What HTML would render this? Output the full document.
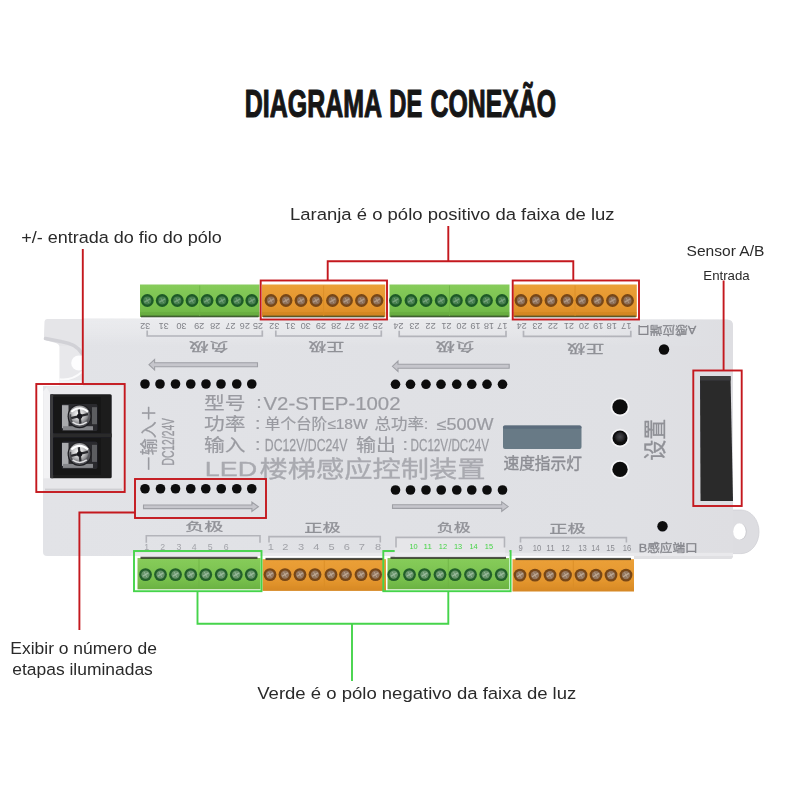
<!DOCTYPE html>
<html lang="pt"><head><meta charset="utf-8"><title>Diagrama de Conexão</title>
<style>html,body{margin:0;padding:0;background:#fff}body{width:800px;height:800px;overflow:hidden}svg{display:block}text{font-family:'Liberation Sans','Noto Sans CJK SC',sans-serif}</style>
</head><body>
<svg width="800" height="800" viewBox="0 0 800 800">
<defs>
<linearGradient id="gbody" x1="0" y1="0" x2="1" y2="0"><stop offset="0" stop-color="#e2e3e7"/><stop offset="0.5" stop-color="#e0e1e5"/><stop offset="0.85" stop-color="#dfe0e4"/><stop offset="1" stop-color="#dedee2"/></linearGradient>
<linearGradient id="ggreen" x1="0" y1="0" x2="0" y2="1"><stop offset="0" stop-color="#87cc5b"/><stop offset="0.7" stop-color="#77bf4c"/><stop offset="1" stop-color="#6bb242"/></linearGradient>
<linearGradient id="gorange" x1="0" y1="0" x2="0" y2="1"><stop offset="0" stop-color="#eba038"/><stop offset="0.7" stop-color="#e3952d"/><stop offset="1" stop-color="#d68824"/></linearGradient>
<radialGradient id="gscrew" cx="0.45" cy="0.4"><stop offset="0" stop-color="#ffffff"/><stop offset="0.55" stop-color="#c4c4c6"/><stop offset="0.85" stop-color="#8b8b8e"/><stop offset="1" stop-color="#55555a"/></radialGradient>
<radialGradient id="gbtn" cx="0.5" cy="0.4"><stop offset="0" stop-color="#4a4a4e"/><stop offset="0.6" stop-color="#2b2b2e"/><stop offset="1" stop-color="#0c0c0e"/></radialGradient>
<linearGradient id="gtop" x1="0" y1="0" x2="0" y2="1"><stop offset="0" stop-color="#ffffff" stop-opacity="0.32"/><stop offset="0.55" stop-color="#ffffff" stop-opacity="0.18"/><stop offset="1" stop-color="#ffffff" stop-opacity="0"/></linearGradient>
<linearGradient id="gtopfade" x1="0" y1="0" x2="1" y2="0"><stop offset="0" stop-color="#dfe0e4" stop-opacity="0"/><stop offset="0.6" stop-color="#dfe0e4" stop-opacity="1"/><stop offset="1" stop-color="#dedee2" stop-opacity="1"/></linearGradient>
<filter id="soft" x="-5%" y="-5%" width="110%" height="110%"><feGaussianBlur stdDeviation="0.45"/></filter>
<filter id="soft2" x="-5%" y="-5%" width="110%" height="110%"><feGaussianBlur stdDeviation="0.6"/></filter>
</defs>
<rect width="800" height="800" fill="#fff"/>
<g id="title">
<text transform="translate(244.8 117.2) scale(0.6401 1)" font-size="39" fill="#161616" font-weight="bold" stroke="#161616" stroke-width="1.0" stroke-linejoin="round" vector-effect="non-scaling-stroke">DIAGRAMA</text>
<text transform="translate(389.3 117.2) scale(0.6090 1)" font-size="39" fill="#161616" font-weight="bold" stroke="#161616" stroke-width="1.0" stroke-linejoin="round" vector-effect="non-scaling-stroke">DE</text>
<text transform="translate(430.6 117.2) scale(0.6369 1)" font-size="39" fill="#161616" font-weight="bold" stroke="#161616" stroke-width="1.0" stroke-linejoin="round" vector-effect="non-scaling-stroke">CONEXÃO</text>
</g>
<g id="device" filter="url(#soft)">
<path d="M47 319 H84 V386 H59.5 V347 Q59.5 343.5 54 342.5 L46.5 340.5 Q43.5 339.5 44 335 L44.5 321.5 Q44.8 319 47 319 Z" fill="#e5e5e8"/>
<path d="M60 346 H84 V380 H60 Z" fill="#e8e8eb"/>
<path d="M45.5 338.5 L62 341.8 Q76.5 344 81.5 353" stroke="#d1d1d6" stroke-width="3.6" fill="none" stroke-linecap="round"/>
<circle cx="78.8" cy="363" r="7.6" fill="#fdfdfe"/>
<path d="M59.5 379.3 Q72 381 82.5 371.5" stroke="#fbfbfc" stroke-width="2" fill="none"/>
<rect x="59" y="380.3" width="25" height="5.7" fill="#f4f4f6"/>
<path d="M730 510 H741 A18 21.8 0 0 1 741 553.6 H730 Z" fill="#dddde1" stroke="#d0d0d5" stroke-width="0.8"/>
<ellipse cx="740.3" cy="531.8" rx="6.4" ry="8.2" fill="#c9c9ce"/>
<ellipse cx="739.5" cy="531.5" rx="6.3" ry="8.2" fill="#ffffff"/>
<path d="M634 555 H733 V557 L731.5 559 H634 Z" fill="#e0e0e3"/>
<path d="M83 318.5 L727 319.6 Q733 319.6 733 325.6 V556 H47 Q43 556 43 552 V386 H83 Z" fill="url(#gbody)"/>
<path d="M84 318.6 L727 319.7 Q733 319.7 733 325.7 V346 H84 Z" fill="url(#gtop)"/>
<path d="M600 319.4 L727 319.7 Q733 319.7 733 325.7 V346 H600 Z" fill="url(#gtopfade)"/>
<rect x="131" y="552.8" width="602" height="3.2" fill="#e9e9ec"/>
</g>
<g filter="url(#soft)">
<rect x="140" y="284.5" width="119.5" height="32.5" fill="url(#ggreen)"/>
<rect x="140" y="312" width="119.5" height="4" fill="#5a9a38" opacity="0.3"/>
<rect x="141" y="315.6" width="117.5" height="1.8" fill="#33452a" opacity="0.75"/>
<path d="M199.75 285.5 V316" stroke="#6db344" stroke-width="1" opacity="0.8"/>
<circle cx="147.3" cy="300.5" r="6.4" fill="#1f5a28"/>
<circle cx="147.3" cy="300.5" r="4.0" fill="#47804f"/>
<path d="M144.9 301.9 L149.70000000000002 299.1" stroke="#7fa983" stroke-width="1.4" stroke-linecap="round" opacity="0.85"/>
<path d="M146.10000000000002 298.3 L148.5 302.7" stroke="#7fa983" stroke-width="0.9" stroke-linecap="round" opacity="0.8"/>
<circle cx="162.2" cy="300.5" r="6.4" fill="#1f5a28"/>
<circle cx="162.2" cy="300.5" r="4.0" fill="#47804f"/>
<path d="M159.79999999999998 301.9 L164.6 299.1" stroke="#7fa983" stroke-width="1.4" stroke-linecap="round" opacity="0.85"/>
<path d="M161.0 298.3 L163.39999999999998 302.7" stroke="#7fa983" stroke-width="0.9" stroke-linecap="round" opacity="0.8"/>
<circle cx="177.3" cy="300.5" r="6.4" fill="#1f5a28"/>
<circle cx="177.3" cy="300.5" r="4.0" fill="#47804f"/>
<path d="M174.9 301.9 L179.70000000000002 299.1" stroke="#7fa983" stroke-width="1.4" stroke-linecap="round" opacity="0.85"/>
<path d="M176.10000000000002 298.3 L178.5 302.7" stroke="#7fa983" stroke-width="0.9" stroke-linecap="round" opacity="0.8"/>
<circle cx="192" cy="300.5" r="6.4" fill="#1f5a28"/>
<circle cx="192" cy="300.5" r="4.0" fill="#47804f"/>
<path d="M189.6 301.9 L194.4 299.1" stroke="#7fa983" stroke-width="1.4" stroke-linecap="round" opacity="0.85"/>
<path d="M190.8 298.3 L193.2 302.7" stroke="#7fa983" stroke-width="0.9" stroke-linecap="round" opacity="0.8"/>
<circle cx="207.1" cy="300.5" r="6.4" fill="#1f5a28"/>
<circle cx="207.1" cy="300.5" r="4.0" fill="#47804f"/>
<path d="M204.7 301.9 L209.5 299.1" stroke="#7fa983" stroke-width="1.4" stroke-linecap="round" opacity="0.85"/>
<path d="M205.9 298.3 L208.29999999999998 302.7" stroke="#7fa983" stroke-width="0.9" stroke-linecap="round" opacity="0.8"/>
<circle cx="222" cy="300.5" r="6.4" fill="#1f5a28"/>
<circle cx="222" cy="300.5" r="4.0" fill="#47804f"/>
<path d="M219.6 301.9 L224.4 299.1" stroke="#7fa983" stroke-width="1.4" stroke-linecap="round" opacity="0.85"/>
<path d="M220.8 298.3 L223.2 302.7" stroke="#7fa983" stroke-width="0.9" stroke-linecap="round" opacity="0.8"/>
<circle cx="237.3" cy="300.5" r="6.4" fill="#1f5a28"/>
<circle cx="237.3" cy="300.5" r="4.0" fill="#47804f"/>
<path d="M234.9 301.9 L239.70000000000002 299.1" stroke="#7fa983" stroke-width="1.4" stroke-linecap="round" opacity="0.85"/>
<path d="M236.10000000000002 298.3 L238.5 302.7" stroke="#7fa983" stroke-width="0.9" stroke-linecap="round" opacity="0.8"/>
<circle cx="251.8" cy="300.5" r="6.4" fill="#1f5a28"/>
<circle cx="251.8" cy="300.5" r="4.0" fill="#47804f"/>
<path d="M249.4 301.9 L254.20000000000002 299.1" stroke="#7fa983" stroke-width="1.4" stroke-linecap="round" opacity="0.85"/>
<path d="M250.60000000000002 298.3 L253.0 302.7" stroke="#7fa983" stroke-width="0.9" stroke-linecap="round" opacity="0.8"/>
</g>
<g filter="url(#soft)">
<rect x="262" y="284.5" width="123.30000000000001" height="32.5" fill="url(#gorange)"/>
<rect x="262" y="312" width="123.30000000000001" height="4" fill="#c67c1e" opacity="0.3"/>
<rect x="263" y="315.6" width="121.30000000000001" height="1.8" fill="#33452a" opacity="0.75"/>
<path d="M323.65 285.5 V316" stroke="#d98c26" stroke-width="1" opacity="0.8"/>
<circle cx="271" cy="300.5" r="6.4" fill="#774619"/>
<circle cx="271" cy="300.5" r="4.0" fill="#8d705a"/>
<path d="M268.6 301.9 L273.4 299.1" stroke="#b7a08c" stroke-width="1.4" stroke-linecap="round" opacity="0.85"/>
<path d="M269.8 298.3 L272.2 302.7" stroke="#b7a08c" stroke-width="0.9" stroke-linecap="round" opacity="0.8"/>
<circle cx="286" cy="300.5" r="6.4" fill="#774619"/>
<circle cx="286" cy="300.5" r="4.0" fill="#8d705a"/>
<path d="M283.6 301.9 L288.4 299.1" stroke="#b7a08c" stroke-width="1.4" stroke-linecap="round" opacity="0.85"/>
<path d="M284.8 298.3 L287.2 302.7" stroke="#b7a08c" stroke-width="0.9" stroke-linecap="round" opacity="0.8"/>
<circle cx="301" cy="300.5" r="6.4" fill="#774619"/>
<circle cx="301" cy="300.5" r="4.0" fill="#8d705a"/>
<path d="M298.6 301.9 L303.4 299.1" stroke="#b7a08c" stroke-width="1.4" stroke-linecap="round" opacity="0.85"/>
<path d="M299.8 298.3 L302.2 302.7" stroke="#b7a08c" stroke-width="0.9" stroke-linecap="round" opacity="0.8"/>
<circle cx="316" cy="300.5" r="6.4" fill="#774619"/>
<circle cx="316" cy="300.5" r="4.0" fill="#8d705a"/>
<path d="M313.6 301.9 L318.4 299.1" stroke="#b7a08c" stroke-width="1.4" stroke-linecap="round" opacity="0.85"/>
<path d="M314.8 298.3 L317.2 302.7" stroke="#b7a08c" stroke-width="0.9" stroke-linecap="round" opacity="0.8"/>
<circle cx="332.5" cy="300.5" r="6.4" fill="#774619"/>
<circle cx="332.5" cy="300.5" r="4.0" fill="#8d705a"/>
<path d="M330.1 301.9 L334.9 299.1" stroke="#b7a08c" stroke-width="1.4" stroke-linecap="round" opacity="0.85"/>
<path d="M331.3 298.3 L333.7 302.7" stroke="#b7a08c" stroke-width="0.9" stroke-linecap="round" opacity="0.8"/>
<circle cx="346.5" cy="300.5" r="6.4" fill="#774619"/>
<circle cx="346.5" cy="300.5" r="4.0" fill="#8d705a"/>
<path d="M344.1 301.9 L348.9 299.1" stroke="#b7a08c" stroke-width="1.4" stroke-linecap="round" opacity="0.85"/>
<path d="M345.3 298.3 L347.7 302.7" stroke="#b7a08c" stroke-width="0.9" stroke-linecap="round" opacity="0.8"/>
<circle cx="361.5" cy="300.5" r="6.4" fill="#774619"/>
<circle cx="361.5" cy="300.5" r="4.0" fill="#8d705a"/>
<path d="M359.1 301.9 L363.9 299.1" stroke="#b7a08c" stroke-width="1.4" stroke-linecap="round" opacity="0.85"/>
<path d="M360.3 298.3 L362.7 302.7" stroke="#b7a08c" stroke-width="0.9" stroke-linecap="round" opacity="0.8"/>
<circle cx="377" cy="300.5" r="6.4" fill="#774619"/>
<circle cx="377" cy="300.5" r="4.0" fill="#8d705a"/>
<path d="M374.6 301.9 L379.4 299.1" stroke="#b7a08c" stroke-width="1.4" stroke-linecap="round" opacity="0.85"/>
<path d="M375.8 298.3 L378.2 302.7" stroke="#b7a08c" stroke-width="0.9" stroke-linecap="round" opacity="0.8"/>
</g>
<g filter="url(#soft)">
<rect x="389.5" y="284.5" width="120.0" height="32.5" fill="url(#ggreen)"/>
<rect x="389.5" y="312" width="120.0" height="4" fill="#5a9a38" opacity="0.3"/>
<rect x="390.5" y="315.6" width="118.0" height="1.8" fill="#33452a" opacity="0.75"/>
<path d="M449.5 285.5 V316" stroke="#6db344" stroke-width="1" opacity="0.8"/>
<circle cx="395.5" cy="300.5" r="6.4" fill="#1f5a28"/>
<circle cx="395.5" cy="300.5" r="4.0" fill="#47804f"/>
<path d="M393.1 301.9 L397.9 299.1" stroke="#7fa983" stroke-width="1.4" stroke-linecap="round" opacity="0.85"/>
<path d="M394.3 298.3 L396.7 302.7" stroke="#7fa983" stroke-width="0.9" stroke-linecap="round" opacity="0.8"/>
<circle cx="411" cy="300.5" r="6.4" fill="#1f5a28"/>
<circle cx="411" cy="300.5" r="4.0" fill="#47804f"/>
<path d="M408.6 301.9 L413.4 299.1" stroke="#7fa983" stroke-width="1.4" stroke-linecap="round" opacity="0.85"/>
<path d="M409.8 298.3 L412.2 302.7" stroke="#7fa983" stroke-width="0.9" stroke-linecap="round" opacity="0.8"/>
<circle cx="426" cy="300.5" r="6.4" fill="#1f5a28"/>
<circle cx="426" cy="300.5" r="4.0" fill="#47804f"/>
<path d="M423.6 301.9 L428.4 299.1" stroke="#7fa983" stroke-width="1.4" stroke-linecap="round" opacity="0.85"/>
<path d="M424.8 298.3 L427.2 302.7" stroke="#7fa983" stroke-width="0.9" stroke-linecap="round" opacity="0.8"/>
<circle cx="441.2" cy="300.5" r="6.4" fill="#1f5a28"/>
<circle cx="441.2" cy="300.5" r="4.0" fill="#47804f"/>
<path d="M438.8 301.9 L443.59999999999997 299.1" stroke="#7fa983" stroke-width="1.4" stroke-linecap="round" opacity="0.85"/>
<path d="M440.0 298.3 L442.4 302.7" stroke="#7fa983" stroke-width="0.9" stroke-linecap="round" opacity="0.8"/>
<circle cx="456.4" cy="300.5" r="6.4" fill="#1f5a28"/>
<circle cx="456.4" cy="300.5" r="4.0" fill="#47804f"/>
<path d="M454.0 301.9 L458.79999999999995 299.1" stroke="#7fa983" stroke-width="1.4" stroke-linecap="round" opacity="0.85"/>
<path d="M455.2 298.3 L457.59999999999997 302.7" stroke="#7fa983" stroke-width="0.9" stroke-linecap="round" opacity="0.8"/>
<circle cx="471.5" cy="300.5" r="6.4" fill="#1f5a28"/>
<circle cx="471.5" cy="300.5" r="4.0" fill="#47804f"/>
<path d="M469.1 301.9 L473.9 299.1" stroke="#7fa983" stroke-width="1.4" stroke-linecap="round" opacity="0.85"/>
<path d="M470.3 298.3 L472.7 302.7" stroke="#7fa983" stroke-width="0.9" stroke-linecap="round" opacity="0.8"/>
<circle cx="486.5" cy="300.5" r="6.4" fill="#1f5a28"/>
<circle cx="486.5" cy="300.5" r="4.0" fill="#47804f"/>
<path d="M484.1 301.9 L488.9 299.1" stroke="#7fa983" stroke-width="1.4" stroke-linecap="round" opacity="0.85"/>
<path d="M485.3 298.3 L487.7 302.7" stroke="#7fa983" stroke-width="0.9" stroke-linecap="round" opacity="0.8"/>
<circle cx="502" cy="300.5" r="6.4" fill="#1f5a28"/>
<circle cx="502" cy="300.5" r="4.0" fill="#47804f"/>
<path d="M499.6 301.9 L504.4 299.1" stroke="#7fa983" stroke-width="1.4" stroke-linecap="round" opacity="0.85"/>
<path d="M500.8 298.3 L503.2 302.7" stroke="#7fa983" stroke-width="0.9" stroke-linecap="round" opacity="0.8"/>
</g>
<g filter="url(#soft)">
<rect x="513.3" y="284.5" width="123.5" height="32.5" fill="url(#gorange)"/>
<rect x="513.3" y="312" width="123.5" height="4" fill="#c67c1e" opacity="0.3"/>
<rect x="514.3" y="315.6" width="121.5" height="1.8" fill="#33452a" opacity="0.75"/>
<path d="M575.05 285.5 V316" stroke="#d98c26" stroke-width="1" opacity="0.8"/>
<circle cx="521" cy="300.5" r="6.4" fill="#774619"/>
<circle cx="521" cy="300.5" r="4.0" fill="#8d705a"/>
<path d="M518.6 301.9 L523.4 299.1" stroke="#b7a08c" stroke-width="1.4" stroke-linecap="round" opacity="0.85"/>
<path d="M519.8 298.3 L522.2 302.7" stroke="#b7a08c" stroke-width="0.9" stroke-linecap="round" opacity="0.8"/>
<circle cx="536" cy="300.5" r="6.4" fill="#774619"/>
<circle cx="536" cy="300.5" r="4.0" fill="#8d705a"/>
<path d="M533.6 301.9 L538.4 299.1" stroke="#b7a08c" stroke-width="1.4" stroke-linecap="round" opacity="0.85"/>
<path d="M534.8 298.3 L537.2 302.7" stroke="#b7a08c" stroke-width="0.9" stroke-linecap="round" opacity="0.8"/>
<circle cx="551" cy="300.5" r="6.4" fill="#774619"/>
<circle cx="551" cy="300.5" r="4.0" fill="#8d705a"/>
<path d="M548.6 301.9 L553.4 299.1" stroke="#b7a08c" stroke-width="1.4" stroke-linecap="round" opacity="0.85"/>
<path d="M549.8 298.3 L552.2 302.7" stroke="#b7a08c" stroke-width="0.9" stroke-linecap="round" opacity="0.8"/>
<circle cx="567" cy="300.5" r="6.4" fill="#774619"/>
<circle cx="567" cy="300.5" r="4.0" fill="#8d705a"/>
<path d="M564.6 301.9 L569.4 299.1" stroke="#b7a08c" stroke-width="1.4" stroke-linecap="round" opacity="0.85"/>
<path d="M565.8 298.3 L568.2 302.7" stroke="#b7a08c" stroke-width="0.9" stroke-linecap="round" opacity="0.8"/>
<circle cx="582" cy="300.5" r="6.4" fill="#774619"/>
<circle cx="582" cy="300.5" r="4.0" fill="#8d705a"/>
<path d="M579.6 301.9 L584.4 299.1" stroke="#b7a08c" stroke-width="1.4" stroke-linecap="round" opacity="0.85"/>
<path d="M580.8 298.3 L583.2 302.7" stroke="#b7a08c" stroke-width="0.9" stroke-linecap="round" opacity="0.8"/>
<circle cx="597.5" cy="300.5" r="6.4" fill="#774619"/>
<circle cx="597.5" cy="300.5" r="4.0" fill="#8d705a"/>
<path d="M595.1 301.9 L599.9 299.1" stroke="#b7a08c" stroke-width="1.4" stroke-linecap="round" opacity="0.85"/>
<path d="M596.3 298.3 L598.7 302.7" stroke="#b7a08c" stroke-width="0.9" stroke-linecap="round" opacity="0.8"/>
<circle cx="612.5" cy="300.5" r="6.4" fill="#774619"/>
<circle cx="612.5" cy="300.5" r="4.0" fill="#8d705a"/>
<path d="M610.1 301.9 L614.9 299.1" stroke="#b7a08c" stroke-width="1.4" stroke-linecap="round" opacity="0.85"/>
<path d="M611.3 298.3 L613.7 302.7" stroke="#b7a08c" stroke-width="0.9" stroke-linecap="round" opacity="0.8"/>
<circle cx="627.5" cy="300.5" r="6.4" fill="#774619"/>
<circle cx="627.5" cy="300.5" r="4.0" fill="#8d705a"/>
<path d="M625.1 301.9 L629.9 299.1" stroke="#b7a08c" stroke-width="1.4" stroke-linecap="round" opacity="0.85"/>
<path d="M626.3 298.3 L628.7 302.7" stroke="#b7a08c" stroke-width="0.9" stroke-linecap="round" opacity="0.8"/>
</g>
<g filter="url(#soft)">
<rect x="137.5" y="558" width="123.0" height="31.299999999999955" fill="url(#ggreen)"/>
<rect x="140.5" y="556.7" width="117.0" height="2.2" fill="#25251f" opacity="0.8"/>
<path d="M199.0 559 V588.3" stroke="#6db344" stroke-width="1" opacity="0.8"/>
<circle cx="145.5" cy="574.6" r="6.4" fill="#235e2b"/>
<circle cx="145.5" cy="574.6" r="4.2" fill="#67946b"/>
<path d="M143.1 576.0 L147.9 573.2" stroke="#a3c0a5" stroke-width="1.4" stroke-linecap="round" opacity="0.85"/>
<path d="M144.3 572.4 L146.7 576.8000000000001" stroke="#a3c0a5" stroke-width="0.9" stroke-linecap="round" opacity="0.8"/>
<circle cx="160.5" cy="574.6" r="6.4" fill="#235e2b"/>
<circle cx="160.5" cy="574.6" r="4.2" fill="#67946b"/>
<path d="M158.1 576.0 L162.9 573.2" stroke="#a3c0a5" stroke-width="1.4" stroke-linecap="round" opacity="0.85"/>
<path d="M159.3 572.4 L161.7 576.8000000000001" stroke="#a3c0a5" stroke-width="0.9" stroke-linecap="round" opacity="0.8"/>
<circle cx="175.5" cy="574.6" r="6.4" fill="#235e2b"/>
<circle cx="175.5" cy="574.6" r="4.2" fill="#67946b"/>
<path d="M173.1 576.0 L177.9 573.2" stroke="#a3c0a5" stroke-width="1.4" stroke-linecap="round" opacity="0.85"/>
<path d="M174.3 572.4 L176.7 576.8000000000001" stroke="#a3c0a5" stroke-width="0.9" stroke-linecap="round" opacity="0.8"/>
<circle cx="190.75" cy="574.6" r="6.4" fill="#235e2b"/>
<circle cx="190.75" cy="574.6" r="4.2" fill="#67946b"/>
<path d="M188.35 576.0 L193.15 573.2" stroke="#a3c0a5" stroke-width="1.4" stroke-linecap="round" opacity="0.85"/>
<path d="M189.55 572.4 L191.95 576.8000000000001" stroke="#a3c0a5" stroke-width="0.9" stroke-linecap="round" opacity="0.8"/>
<circle cx="205.75" cy="574.6" r="6.4" fill="#235e2b"/>
<circle cx="205.75" cy="574.6" r="4.2" fill="#67946b"/>
<path d="M203.35 576.0 L208.15 573.2" stroke="#a3c0a5" stroke-width="1.4" stroke-linecap="round" opacity="0.85"/>
<path d="M204.55 572.4 L206.95 576.8000000000001" stroke="#a3c0a5" stroke-width="0.9" stroke-linecap="round" opacity="0.8"/>
<circle cx="221.25" cy="574.6" r="6.4" fill="#235e2b"/>
<circle cx="221.25" cy="574.6" r="4.2" fill="#67946b"/>
<path d="M218.85 576.0 L223.65 573.2" stroke="#a3c0a5" stroke-width="1.4" stroke-linecap="round" opacity="0.85"/>
<path d="M220.05 572.4 L222.45 576.8000000000001" stroke="#a3c0a5" stroke-width="0.9" stroke-linecap="round" opacity="0.8"/>
<circle cx="236.25" cy="574.6" r="6.4" fill="#235e2b"/>
<circle cx="236.25" cy="574.6" r="4.2" fill="#67946b"/>
<path d="M233.85 576.0 L238.65 573.2" stroke="#a3c0a5" stroke-width="1.4" stroke-linecap="round" opacity="0.85"/>
<path d="M235.05 572.4 L237.45 576.8000000000001" stroke="#a3c0a5" stroke-width="0.9" stroke-linecap="round" opacity="0.8"/>
<circle cx="251.25" cy="574.6" r="6.4" fill="#235e2b"/>
<circle cx="251.25" cy="574.6" r="4.2" fill="#67946b"/>
<path d="M248.85 576.0 L253.65 573.2" stroke="#a3c0a5" stroke-width="1.4" stroke-linecap="round" opacity="0.85"/>
<path d="M250.05 572.4 L252.45 576.8000000000001" stroke="#a3c0a5" stroke-width="0.9" stroke-linecap="round" opacity="0.8"/>
</g>
<g filter="url(#soft)">
<rect x="262.5" y="559.2" width="123.5" height="31.699999999999932" fill="url(#gorange)"/>
<rect x="265.5" y="557.9000000000001" width="117.5" height="2.2" fill="#25251f" opacity="0.8"/>
<path d="M324.25 560.2 V589.9" stroke="#d98c26" stroke-width="1" opacity="0.8"/>
<circle cx="270" cy="574.6" r="6.4" fill="#774619"/>
<circle cx="270" cy="574.6" r="4.2" fill="#94775f"/>
<path d="M267.6 576.0 L272.4 573.2" stroke="#c4b09c" stroke-width="1.4" stroke-linecap="round" opacity="0.85"/>
<path d="M268.8 572.4 L271.2 576.8000000000001" stroke="#c4b09c" stroke-width="0.9" stroke-linecap="round" opacity="0.8"/>
<circle cx="285" cy="574.6" r="6.4" fill="#774619"/>
<circle cx="285" cy="574.6" r="4.2" fill="#94775f"/>
<path d="M282.6 576.0 L287.4 573.2" stroke="#c4b09c" stroke-width="1.4" stroke-linecap="round" opacity="0.85"/>
<path d="M283.8 572.4 L286.2 576.8000000000001" stroke="#c4b09c" stroke-width="0.9" stroke-linecap="round" opacity="0.8"/>
<circle cx="300" cy="574.6" r="6.4" fill="#774619"/>
<circle cx="300" cy="574.6" r="4.2" fill="#94775f"/>
<path d="M297.6 576.0 L302.4 573.2" stroke="#c4b09c" stroke-width="1.4" stroke-linecap="round" opacity="0.85"/>
<path d="M298.8 572.4 L301.2 576.8000000000001" stroke="#c4b09c" stroke-width="0.9" stroke-linecap="round" opacity="0.8"/>
<circle cx="315" cy="574.6" r="6.4" fill="#774619"/>
<circle cx="315" cy="574.6" r="4.2" fill="#94775f"/>
<path d="M312.6 576.0 L317.4 573.2" stroke="#c4b09c" stroke-width="1.4" stroke-linecap="round" opacity="0.85"/>
<path d="M313.8 572.4 L316.2 576.8000000000001" stroke="#c4b09c" stroke-width="0.9" stroke-linecap="round" opacity="0.8"/>
<circle cx="331" cy="574.6" r="6.4" fill="#774619"/>
<circle cx="331" cy="574.6" r="4.2" fill="#94775f"/>
<path d="M328.6 576.0 L333.4 573.2" stroke="#c4b09c" stroke-width="1.4" stroke-linecap="round" opacity="0.85"/>
<path d="M329.8 572.4 L332.2 576.8000000000001" stroke="#c4b09c" stroke-width="0.9" stroke-linecap="round" opacity="0.8"/>
<circle cx="345.5" cy="574.6" r="6.4" fill="#774619"/>
<circle cx="345.5" cy="574.6" r="4.2" fill="#94775f"/>
<path d="M343.1 576.0 L347.9 573.2" stroke="#c4b09c" stroke-width="1.4" stroke-linecap="round" opacity="0.85"/>
<path d="M344.3 572.4 L346.7 576.8000000000001" stroke="#c4b09c" stroke-width="0.9" stroke-linecap="round" opacity="0.8"/>
<circle cx="361" cy="574.6" r="6.4" fill="#774619"/>
<circle cx="361" cy="574.6" r="4.2" fill="#94775f"/>
<path d="M358.6 576.0 L363.4 573.2" stroke="#c4b09c" stroke-width="1.4" stroke-linecap="round" opacity="0.85"/>
<path d="M359.8 572.4 L362.2 576.8000000000001" stroke="#c4b09c" stroke-width="0.9" stroke-linecap="round" opacity="0.8"/>
<circle cx="375.5" cy="574.6" r="6.4" fill="#774619"/>
<circle cx="375.5" cy="574.6" r="4.2" fill="#94775f"/>
<path d="M373.1 576.0 L377.9 573.2" stroke="#c4b09c" stroke-width="1.4" stroke-linecap="round" opacity="0.85"/>
<path d="M374.3 572.4 L376.7 576.8000000000001" stroke="#c4b09c" stroke-width="0.9" stroke-linecap="round" opacity="0.8"/>
</g>
<g filter="url(#soft)">
<rect x="387.5" y="558" width="121.5" height="31.299999999999955" fill="url(#ggreen)"/>
<rect x="390.5" y="556.7" width="115.5" height="2.2" fill="#25251f" opacity="0.8"/>
<path d="M448.25 559 V588.3" stroke="#6db344" stroke-width="1" opacity="0.8"/>
<circle cx="393.75" cy="574.6" r="6.4" fill="#235e2b"/>
<circle cx="393.75" cy="574.6" r="4.2" fill="#67946b"/>
<path d="M391.35 576.0 L396.15 573.2" stroke="#a3c0a5" stroke-width="1.4" stroke-linecap="round" opacity="0.85"/>
<path d="M392.55 572.4 L394.95 576.8000000000001" stroke="#a3c0a5" stroke-width="0.9" stroke-linecap="round" opacity="0.8"/>
<circle cx="409.5" cy="574.6" r="6.4" fill="#235e2b"/>
<circle cx="409.5" cy="574.6" r="4.2" fill="#67946b"/>
<path d="M407.1 576.0 L411.9 573.2" stroke="#a3c0a5" stroke-width="1.4" stroke-linecap="round" opacity="0.85"/>
<path d="M408.3 572.4 L410.7 576.8000000000001" stroke="#a3c0a5" stroke-width="0.9" stroke-linecap="round" opacity="0.8"/>
<circle cx="424.5" cy="574.6" r="6.4" fill="#235e2b"/>
<circle cx="424.5" cy="574.6" r="4.2" fill="#67946b"/>
<path d="M422.1 576.0 L426.9 573.2" stroke="#a3c0a5" stroke-width="1.4" stroke-linecap="round" opacity="0.85"/>
<path d="M423.3 572.4 L425.7 576.8000000000001" stroke="#a3c0a5" stroke-width="0.9" stroke-linecap="round" opacity="0.8"/>
<circle cx="440" cy="574.6" r="6.4" fill="#235e2b"/>
<circle cx="440" cy="574.6" r="4.2" fill="#67946b"/>
<path d="M437.6 576.0 L442.4 573.2" stroke="#a3c0a5" stroke-width="1.4" stroke-linecap="round" opacity="0.85"/>
<path d="M438.8 572.4 L441.2 576.8000000000001" stroke="#a3c0a5" stroke-width="0.9" stroke-linecap="round" opacity="0.8"/>
<circle cx="455" cy="574.6" r="6.4" fill="#235e2b"/>
<circle cx="455" cy="574.6" r="4.2" fill="#67946b"/>
<path d="M452.6 576.0 L457.4 573.2" stroke="#a3c0a5" stroke-width="1.4" stroke-linecap="round" opacity="0.85"/>
<path d="M453.8 572.4 L456.2 576.8000000000001" stroke="#a3c0a5" stroke-width="0.9" stroke-linecap="round" opacity="0.8"/>
<circle cx="470.5" cy="574.6" r="6.4" fill="#235e2b"/>
<circle cx="470.5" cy="574.6" r="4.2" fill="#67946b"/>
<path d="M468.1 576.0 L472.9 573.2" stroke="#a3c0a5" stroke-width="1.4" stroke-linecap="round" opacity="0.85"/>
<path d="M469.3 572.4 L471.7 576.8000000000001" stroke="#a3c0a5" stroke-width="0.9" stroke-linecap="round" opacity="0.8"/>
<circle cx="485.75" cy="574.6" r="6.4" fill="#235e2b"/>
<circle cx="485.75" cy="574.6" r="4.2" fill="#67946b"/>
<path d="M483.35 576.0 L488.15 573.2" stroke="#a3c0a5" stroke-width="1.4" stroke-linecap="round" opacity="0.85"/>
<path d="M484.55 572.4 L486.95 576.8000000000001" stroke="#a3c0a5" stroke-width="0.9" stroke-linecap="round" opacity="0.8"/>
<circle cx="501.25" cy="574.6" r="6.4" fill="#235e2b"/>
<circle cx="501.25" cy="574.6" r="4.2" fill="#67946b"/>
<path d="M498.85 576.0 L503.65 573.2" stroke="#a3c0a5" stroke-width="1.4" stroke-linecap="round" opacity="0.85"/>
<path d="M500.05 572.4 L502.45 576.8000000000001" stroke="#a3c0a5" stroke-width="0.9" stroke-linecap="round" opacity="0.8"/>
</g>
<g filter="url(#soft)">
<rect x="512.5" y="559.2" width="121.5" height="32.299999999999955" fill="url(#gorange)"/>
<rect x="515.5" y="557.9000000000001" width="115.5" height="2.2" fill="#25251f" opacity="0.8"/>
<path d="M573.25 560.2 V590.5" stroke="#d98c26" stroke-width="1" opacity="0.8"/>
<circle cx="520" cy="575.1" r="6.4" fill="#774619"/>
<circle cx="520" cy="575.1" r="4.2" fill="#94775f"/>
<path d="M517.6 576.5 L522.4 573.7" stroke="#c4b09c" stroke-width="1.4" stroke-linecap="round" opacity="0.85"/>
<path d="M518.8 572.9 L521.2 577.3000000000001" stroke="#c4b09c" stroke-width="0.9" stroke-linecap="round" opacity="0.8"/>
<circle cx="535" cy="575.1" r="6.4" fill="#774619"/>
<circle cx="535" cy="575.1" r="4.2" fill="#94775f"/>
<path d="M532.6 576.5 L537.4 573.7" stroke="#c4b09c" stroke-width="1.4" stroke-linecap="round" opacity="0.85"/>
<path d="M533.8 572.9 L536.2 577.3000000000001" stroke="#c4b09c" stroke-width="0.9" stroke-linecap="round" opacity="0.8"/>
<circle cx="550" cy="575.1" r="6.4" fill="#774619"/>
<circle cx="550" cy="575.1" r="4.2" fill="#94775f"/>
<path d="M547.6 576.5 L552.4 573.7" stroke="#c4b09c" stroke-width="1.4" stroke-linecap="round" opacity="0.85"/>
<path d="M548.8 572.9 L551.2 577.3000000000001" stroke="#c4b09c" stroke-width="0.9" stroke-linecap="round" opacity="0.8"/>
<circle cx="565.5" cy="575.1" r="6.4" fill="#774619"/>
<circle cx="565.5" cy="575.1" r="4.2" fill="#94775f"/>
<path d="M563.1 576.5 L567.9 573.7" stroke="#c4b09c" stroke-width="1.4" stroke-linecap="round" opacity="0.85"/>
<path d="M564.3 572.9 L566.7 577.3000000000001" stroke="#c4b09c" stroke-width="0.9" stroke-linecap="round" opacity="0.8"/>
<circle cx="581" cy="575.1" r="6.4" fill="#774619"/>
<circle cx="581" cy="575.1" r="4.2" fill="#94775f"/>
<path d="M578.6 576.5 L583.4 573.7" stroke="#c4b09c" stroke-width="1.4" stroke-linecap="round" opacity="0.85"/>
<path d="M579.8 572.9 L582.2 577.3000000000001" stroke="#c4b09c" stroke-width="0.9" stroke-linecap="round" opacity="0.8"/>
<circle cx="596" cy="575.1" r="6.4" fill="#774619"/>
<circle cx="596" cy="575.1" r="4.2" fill="#94775f"/>
<path d="M593.6 576.5 L598.4 573.7" stroke="#c4b09c" stroke-width="1.4" stroke-linecap="round" opacity="0.85"/>
<path d="M594.8 572.9 L597.2 577.3000000000001" stroke="#c4b09c" stroke-width="0.9" stroke-linecap="round" opacity="0.8"/>
<circle cx="611" cy="575.1" r="6.4" fill="#774619"/>
<circle cx="611" cy="575.1" r="4.2" fill="#94775f"/>
<path d="M608.6 576.5 L613.4 573.7" stroke="#c4b09c" stroke-width="1.4" stroke-linecap="round" opacity="0.85"/>
<path d="M609.8 572.9 L612.2 577.3000000000001" stroke="#c4b09c" stroke-width="0.9" stroke-linecap="round" opacity="0.8"/>
<circle cx="626" cy="575.1" r="6.4" fill="#774619"/>
<circle cx="626" cy="575.1" r="4.2" fill="#94775f"/>
<path d="M623.6 576.5 L628.4 573.7" stroke="#c4b09c" stroke-width="1.4" stroke-linecap="round" opacity="0.85"/>
<path d="M624.8 572.9 L627.2 577.3000000000001" stroke="#c4b09c" stroke-width="0.9" stroke-linecap="round" opacity="0.8"/>
</g>
<g id="print" filter="url(#soft)">
<text transform="translate(145.2 323) rotate(180) scale(0.9861 1)" font-size="9.3" fill="#818288" text-anchor="middle">32</text>
<text transform="translate(163.7 323) rotate(180) scale(0.9861 1)" font-size="9.3" fill="#818288" text-anchor="middle">31</text>
<text transform="translate(181.5 323) rotate(180) scale(0.9861 1)" font-size="9.3" fill="#818288" text-anchor="middle">30</text>
<text transform="translate(199.2 323) rotate(180) scale(0.9861 1)" font-size="9.3" fill="#818288" text-anchor="middle">29</text>
<text transform="translate(215.2 323) rotate(180) scale(0.9861 1)" font-size="9.3" fill="#818288" text-anchor="middle">28</text>
<text transform="translate(230.4 323) rotate(180) scale(0.9861 1)" font-size="9.3" fill="#818288" text-anchor="middle">27</text>
<text transform="translate(244.8 323) rotate(180) scale(0.9861 1)" font-size="9.3" fill="#818288" text-anchor="middle">26</text>
<text transform="translate(258 323) rotate(180) scale(0.9861 1)" font-size="9.3" fill="#818288" text-anchor="middle">25</text>
<text transform="translate(274.3 323) rotate(180) scale(0.9861 1)" font-size="9.3" fill="#818288" text-anchor="middle">32</text>
<text transform="translate(290.3 323) rotate(180) scale(0.9861 1)" font-size="9.3" fill="#818288" text-anchor="middle">31</text>
<text transform="translate(305.7 323) rotate(180) scale(0.9861 1)" font-size="9.3" fill="#818288" text-anchor="middle">30</text>
<text transform="translate(321 323) rotate(180) scale(0.9861 1)" font-size="9.3" fill="#818288" text-anchor="middle">29</text>
<text transform="translate(336.2 323) rotate(180) scale(0.9861 1)" font-size="9.3" fill="#818288" text-anchor="middle">28</text>
<text transform="translate(349.8 323) rotate(180) scale(0.9861 1)" font-size="9.3" fill="#818288" text-anchor="middle">27</text>
<text transform="translate(363.8 323) rotate(180) scale(0.9861 1)" font-size="9.3" fill="#818288" text-anchor="middle">26</text>
<text transform="translate(377.8 323) rotate(180) scale(0.9861 1)" font-size="9.3" fill="#818288" text-anchor="middle">25</text>
<text transform="translate(398.5 323) rotate(180) scale(0.9861 1)" font-size="9.3" fill="#818288" text-anchor="middle">24</text>
<text transform="translate(414.4 323) rotate(180) scale(0.9861 1)" font-size="9.3" fill="#818288" text-anchor="middle">23</text>
<text transform="translate(430.6 323) rotate(180) scale(0.9861 1)" font-size="9.3" fill="#818288" text-anchor="middle">22</text>
<text transform="translate(446.4 323) rotate(180) scale(0.9861 1)" font-size="9.3" fill="#818288" text-anchor="middle">21</text>
<text transform="translate(461.6 323) rotate(180) scale(0.9861 1)" font-size="9.3" fill="#818288" text-anchor="middle">20</text>
<text transform="translate(475.4 323) rotate(180) scale(0.9861 1)" font-size="9.3" fill="#818288" text-anchor="middle">19</text>
<text transform="translate(489 323) rotate(180) scale(0.9861 1)" font-size="9.3" fill="#818288" text-anchor="middle">18</text>
<text transform="translate(502.3 323) rotate(180) scale(0.9861 1)" font-size="9.3" fill="#818288" text-anchor="middle">17</text>
<text transform="translate(521.7 323) rotate(180) scale(0.9861 1)" font-size="9.3" fill="#818288" text-anchor="middle">24</text>
<text transform="translate(537.5 323) rotate(180) scale(0.9861 1)" font-size="9.3" fill="#818288" text-anchor="middle">23</text>
<text transform="translate(552.9 323) rotate(180) scale(0.9861 1)" font-size="9.3" fill="#818288" text-anchor="middle">22</text>
<text transform="translate(569 323) rotate(180) scale(0.9861 1)" font-size="9.3" fill="#818288" text-anchor="middle">21</text>
<text transform="translate(584.1 323) rotate(180) scale(0.9861 1)" font-size="9.3" fill="#818288" text-anchor="middle">20</text>
<text transform="translate(598.3 323) rotate(180) scale(0.9861 1)" font-size="9.3" fill="#818288" text-anchor="middle">19</text>
<text transform="translate(611.8 323) rotate(180) scale(0.9861 1)" font-size="9.3" fill="#818288" text-anchor="middle">18</text>
<text transform="translate(626.3 323) rotate(180) scale(0.9861 1)" font-size="9.3" fill="#818288" text-anchor="middle">17</text>
<path d="M147.2 330.5 V336 H262.3 V330.5" fill="none" stroke="#b3b4ba" stroke-width="1.7"/>
<path d="M275.8 330.5 V336 H381.3 V330.5" fill="none" stroke="#b3b4ba" stroke-width="1.7"/>
<path d="M399.2 330.8 V336.3 H506 V330.8" fill="none" stroke="#b3b4ba" stroke-width="1.7"/>
<path d="M523.5 330.8 V336.3 H630.8 V330.8" fill="none" stroke="#b3b4ba" stroke-width="1.7"/>
<text transform="translate(208.7 341.736) rotate(180) scale(1.6141 1)" font-size="12.4" fill="#909197" text-anchor="middle" stroke="#909197" stroke-width="0.35" stroke-linejoin="round" vector-effect="non-scaling-stroke">负极</text>
<text transform="translate(326.2 342.336) rotate(180) scale(1.4527 1)" font-size="12.4" fill="#909197" text-anchor="middle" stroke="#909197" stroke-width="0.35" stroke-linejoin="round" vector-effect="non-scaling-stroke">正极</text>
<text transform="translate(455 342.336) rotate(180) scale(1.5939 1)" font-size="12.4" fill="#909197" text-anchor="middle" stroke="#909197" stroke-width="0.35" stroke-linejoin="round" vector-effect="non-scaling-stroke">负极</text>
<text transform="translate(585.5 343.536) rotate(180) scale(1.5132 1)" font-size="12.4" fill="#909197" text-anchor="middle" stroke="#909197" stroke-width="0.35" stroke-linejoin="round" vector-effect="non-scaling-stroke">正极</text>
<text transform="translate(666.7 325.752) rotate(180) scale(1.0715 1)" font-size="11.8" fill="#85868c" text-anchor="middle" stroke="#85868c" stroke-width="0.3" stroke-linejoin="round" vector-effect="non-scaling-stroke">A感应端口</text>
<text transform="translate(204.3 530.8480000000001) scale(1.6307 1)" font-size="11.8" fill="#909197" text-anchor="middle" stroke="#909197" stroke-width="0.35" stroke-linejoin="round" vector-effect="non-scaling-stroke">负极</text>
<text transform="translate(322.4 531.548) scale(1.5460 1)" font-size="11.8" fill="#909197" text-anchor="middle" stroke="#909197" stroke-width="0.35" stroke-linejoin="round" vector-effect="non-scaling-stroke">正极</text>
<text transform="translate(453.7 532.248) scale(1.4401 1)" font-size="11.8" fill="#909197" text-anchor="middle" stroke="#909197" stroke-width="0.35" stroke-linejoin="round" vector-effect="non-scaling-stroke">负极</text>
<text transform="translate(567.4 532.648) scale(1.5460 1)" font-size="11.8" fill="#909197" text-anchor="middle" stroke="#909197" stroke-width="0.35" stroke-linejoin="round" vector-effect="non-scaling-stroke">正极</text>
<text transform="translate(668.2 551.7040000000001) scale(1.1096 1)" font-size="11.4" fill="#85868c" text-anchor="middle" stroke="#85868c" stroke-width="0.3" stroke-linejoin="round" vector-effect="non-scaling-stroke">B感应端口</text>
<path d="M149 364.7 L154.6 359.5 V362.7 H257.5 V366.7 H154.6 V369.9 Z" fill="#c6c6cc" stroke="#9fa0a6" stroke-width="1.1" stroke-linejoin="miter"/>
<path d="M392.4 366.3 L398.0 361.1 V364.3 H509.2 V368.3 H398.0 V371.5 Z" fill="#c6c6cc" stroke="#9fa0a6" stroke-width="1.1" stroke-linejoin="miter"/>
<path d="M258.4 506.8 L251.89999999999998 502.1 V505.0 H143.5 V508.6 H251.89999999999998 V511.5 Z" fill="#c6c6cc" stroke="#9fa0a6" stroke-width="1.1" stroke-linejoin="miter"/>
<path d="M508.2 506.6 L501.7 501.90000000000003 V504.8 H392.5 V508.40000000000003 H501.7 V511.3 Z" fill="#c6c6cc" stroke="#9fa0a6" stroke-width="1.1" stroke-linejoin="miter"/>
<path d="M146.3 542.7 V535.7 H260 V542.7" fill="none" stroke="#b3b4ba" stroke-width="1.6"/>
<path d="M269 542.6 V536.6 H380.3 V542.6" fill="none" stroke="#b3b4ba" stroke-width="1.6"/>
<path d="M520.5 542.6 V537.6 H626.4 V542.6" fill="none" stroke="#b3b4ba" stroke-width="1.6"/>
<text transform="translate(146.8 549.6) scale(0.9973 1)" font-size="8.8" fill="#a2a3a9" text-anchor="middle">1</text>
<text transform="translate(162.7 549.6) scale(0.9973 1)" font-size="8.8" fill="#a2a3a9" text-anchor="middle">2</text>
<text transform="translate(178.9 549.6) scale(0.9973 1)" font-size="8.8" fill="#a2a3a9" text-anchor="middle">3</text>
<text transform="translate(194.1 549.6) scale(0.9973 1)" font-size="8.8" fill="#a2a3a9" text-anchor="middle">4</text>
<text transform="translate(210.3 549.6) scale(0.9973 1)" font-size="8.8" fill="#a2a3a9" text-anchor="middle">5</text>
<text transform="translate(226.2 549.6) scale(0.9973 1)" font-size="8.8" fill="#a2a3a9" text-anchor="middle">6</text>
<text transform="translate(270.7 549.6) scale(1.3490 1)" font-size="8.2" fill="#a0a1a7" text-anchor="middle">1</text>
<text transform="translate(285.2 549.6) scale(1.3490 1)" font-size="8.2" fill="#a0a1a7" text-anchor="middle">2</text>
<text transform="translate(301.1 549.6) scale(1.3490 1)" font-size="8.2" fill="#a0a1a7" text-anchor="middle">3</text>
<text transform="translate(316.3 549.6) scale(1.3490 1)" font-size="8.2" fill="#a0a1a7" text-anchor="middle">4</text>
<text transform="translate(331.5 549.6) scale(1.3490 1)" font-size="8.2" fill="#a0a1a7" text-anchor="middle">5</text>
<text transform="translate(346.7 549.6) scale(1.3490 1)" font-size="8.2" fill="#a0a1a7" text-anchor="middle">6</text>
<text transform="translate(361.9 549.6) scale(1.3490 1)" font-size="8.2" fill="#a0a1a7" text-anchor="middle">7</text>
<text transform="translate(378 549.6) scale(1.3490 1)" font-size="8.2" fill="#a0a1a7" text-anchor="middle">8</text>
<text transform="translate(520.5 551.3) scale(0.8480 1)" font-size="9" fill="#8a8b91" text-anchor="middle">9</text>
<text transform="translate(537 551.3) scale(0.8494 1)" font-size="9" fill="#8a8b91" text-anchor="middle">10</text>
<text transform="translate(550.5 551.3) scale(0.9104 1)" font-size="9" fill="#8a8b91" text-anchor="middle">11</text>
<text transform="translate(565.5 551.3) scale(0.8494 1)" font-size="9" fill="#8a8b91" text-anchor="middle">12</text>
<text transform="translate(582.5 551.3) scale(0.8494 1)" font-size="9" fill="#8a8b91" text-anchor="middle">13</text>
<text transform="translate(595.5 551.3) scale(0.8494 1)" font-size="9" fill="#8a8b91" text-anchor="middle">14</text>
<text transform="translate(610.5 551.3) scale(0.8494 1)" font-size="9" fill="#8a8b91" text-anchor="middle">15</text>
<text transform="translate(627 551.3) scale(0.8494 1)" font-size="9" fill="#8a8b91" text-anchor="middle">16</text>
<text transform="translate(204 408.8) scale(1.1926 1)" font-size="17.4" fill="#9a9ba1" stroke="#9a9ba1" stroke-width="0.22" stroke-linejoin="round" vector-effect="non-scaling-stroke">型号</text>
<text transform="translate(256.2 407.5) scale(1.1617 1)" font-size="17" fill="#9a9ba1" stroke="#9a9ba1" stroke-width="0.22" stroke-linejoin="round" vector-effect="non-scaling-stroke">:</text>
<text transform="translate(263.5 410) scale(1.1199 1)" font-size="18.2" fill="#9a9ba1" stroke="#9a9ba1" stroke-width="0.22" stroke-linejoin="round" vector-effect="non-scaling-stroke">V2-STEP-1002</text>
<text transform="translate(204 429.5) scale(1.2505 1)" font-size="16.6" fill="#9a9ba1" stroke="#9a9ba1" stroke-width="0.22" stroke-linejoin="round" vector-effect="non-scaling-stroke">功率</text>
<text transform="translate(255 428.5) scale(1.1617 1)" font-size="17" fill="#9a9ba1" stroke="#9a9ba1" stroke-width="0.22" stroke-linejoin="round" vector-effect="non-scaling-stroke">:</text>
<text transform="translate(264.8 429.3) scale(1.0684 1)" font-size="14.6" fill="#9a9ba1" stroke="#9a9ba1" stroke-width="0.22" stroke-linejoin="round" vector-effect="non-scaling-stroke">单个台阶≤18W</text>
<text transform="translate(374.5 429.3) scale(1.1287 1)" font-size="14.6" fill="#9a9ba1" stroke="#9a9ba1" stroke-width="0.22" stroke-linejoin="round" vector-effect="non-scaling-stroke">总功率:</text>
<text transform="translate(436.5 430) scale(1.1563 1)" font-size="15.6" fill="#9a9ba1" stroke="#9a9ba1" stroke-width="0.22" stroke-linejoin="round" vector-effect="non-scaling-stroke">≤500W</text>
<text transform="translate(204 450.5) scale(1.1926 1)" font-size="17.4" fill="#9a9ba1" stroke="#9a9ba1" stroke-width="0.22" stroke-linejoin="round" vector-effect="non-scaling-stroke">输入</text>
<text transform="translate(255 449.5) scale(1.1617 1)" font-size="17" fill="#9a9ba1" stroke="#9a9ba1" stroke-width="0.22" stroke-linejoin="round" vector-effect="non-scaling-stroke">:</text>
<text transform="translate(264.8 451) scale(0.7310 1)" font-size="16.8" fill="#9a9ba1" stroke="#9a9ba1" stroke-width="0.22" stroke-linejoin="round" vector-effect="non-scaling-stroke">DC12V/DC24V</text>
<text transform="translate(356 450.5) scale(1.1495 1)" font-size="17.4" fill="#9a9ba1" stroke="#9a9ba1" stroke-width="0.22" stroke-linejoin="round" vector-effect="non-scaling-stroke">输出</text>
<text transform="translate(402.5 449.5) scale(1.1617 1)" font-size="17" fill="#9a9ba1" stroke="#9a9ba1" stroke-width="0.22" stroke-linejoin="round" vector-effect="non-scaling-stroke">:</text>
<text transform="translate(410.5 451) scale(0.6956 1)" font-size="16.8" fill="#9a9ba1" stroke="#9a9ba1" stroke-width="0.22" stroke-linejoin="round" vector-effect="non-scaling-stroke">DC12V/DC24V</text>
<text transform="translate(204.8 475.6) scale(1.3234 1)" font-size="20.4" fill="#a9aab0" stroke="#a9aab0" stroke-width="0.35" stroke-linejoin="round" vector-effect="non-scaling-stroke">LED</text>
<text transform="translate(259.4 477) scale(1.2299 1)" font-size="23" fill="#a9aab0" stroke="#a9aab0" stroke-width="0.35" stroke-linejoin="round" vector-effect="non-scaling-stroke">楼梯感应控制装置</text>
<text transform="translate(503.5 468.6) scale(0.9811 1)" font-size="16" fill="#8d8e94" stroke="#8d8e94" stroke-width="0.45" stroke-linejoin="round" vector-effect="non-scaling-stroke">速度指示灯</text>
<text transform="translate(155.4 472) rotate(-90) scale(1.0169 1)" font-size="16.6" fill="#9a9ba1" stroke="#9a9ba1" stroke-width="0.3" stroke-linejoin="round" vector-effect="non-scaling-stroke">－输入＋</text>
<text transform="translate(174.4 465.5) rotate(-90) scale(0.6056 1)" font-size="17" fill="#9a9ba1" stroke="#9a9ba1" stroke-width="0.3" stroke-linejoin="round" vector-effect="non-scaling-stroke">DC12/24V</text>
<text transform="translate(663.2 460.8) rotate(-90) scale(0.9130 1)" font-size="23" fill="#909197" stroke="#909197" stroke-width="0.35" stroke-linejoin="round" vector-effect="non-scaling-stroke">设置</text>
</g>
<g id="dots" filter="url(#soft)" fill="#0d0d0f">
<circle cx="145" cy="384" r="4.8"/>
<circle cx="160" cy="384" r="4.8"/>
<circle cx="175.5" cy="384" r="4.8"/>
<circle cx="190.75" cy="384" r="4.8"/>
<circle cx="206" cy="384" r="4.8"/>
<circle cx="221" cy="384" r="4.8"/>
<circle cx="236.75" cy="384" r="4.8"/>
<circle cx="251.75" cy="384" r="4.8"/>
<circle cx="395.5" cy="384.3" r="4.8"/>
<circle cx="410.5" cy="384.3" r="4.8"/>
<circle cx="426" cy="384.3" r="4.8"/>
<circle cx="441" cy="384.3" r="4.8"/>
<circle cx="456.75" cy="384.3" r="4.8"/>
<circle cx="471.75" cy="384.3" r="4.8"/>
<circle cx="487" cy="384.3" r="4.8"/>
<circle cx="502.5" cy="384.3" r="4.8"/>
<circle cx="145" cy="488.75" r="4.8"/>
<circle cx="160.5" cy="488.75" r="4.8"/>
<circle cx="175.5" cy="488.75" r="4.8"/>
<circle cx="190.75" cy="488.75" r="4.8"/>
<circle cx="205.75" cy="488.75" r="4.8"/>
<circle cx="221.25" cy="488.75" r="4.8"/>
<circle cx="236.75" cy="488.75" r="4.8"/>
<circle cx="251.75" cy="488.75" r="4.8"/>
<circle cx="395.5" cy="490" r="4.8"/>
<circle cx="410.5" cy="490" r="4.8"/>
<circle cx="426" cy="490" r="4.8"/>
<circle cx="441.25" cy="490" r="4.8"/>
<circle cx="456.75" cy="490" r="4.8"/>
<circle cx="471.75" cy="490" r="4.8"/>
<circle cx="487" cy="490" r="4.8"/>
<circle cx="502.5" cy="490" r="4.8"/>
<circle cx="664" cy="349.5" r="5.2"/>
<circle cx="662.5" cy="526.3" r="5.2"/>
</g>
<g filter="url(#soft)">
<rect x="503" y="425.5" width="78.5" height="23.5" rx="2" fill="#687a86"/>
<rect x="503" y="425.5" width="78.5" height="3.2" rx="1.5" fill="#58697a" opacity="0.8"/>
<circle cx="620" cy="406.9" r="9.5" fill="#f4f4f6"/>
<circle cx="620" cy="406.9" r="7.7" fill="#0f0f11"/>
<circle cx="620" cy="438" r="9.3" fill="#f4f4f6"/>
<circle cx="620" cy="438" r="7.5" fill="#0f0f11"/>
<circle cx="620" cy="469.4" r="9.5" fill="#f4f4f6"/>
<circle cx="620" cy="469.4" r="7.7" fill="#0f0f11"/>
<circle cx="620" cy="438" r="6" fill="url(#gbtn)"/>
</g>
<g filter="url(#soft)">
<path d="M700 376 H730.5 L733 501 H700.5 Z" fill="#2a2a2c"/>
<path d="M700 376 H730.5 L730.7 380.5 H700 Z" fill="#3c3c3e"/>
</g>
<g id="terminal" filter="url(#soft)">
<path d="M47 386.5 H123.5 V490 H43.2 V391 Z" fill="#e9e9ec"/>
<path d="M46.5 387.5 L50.3 394 V478.5 H43.4 V391.5 Z" fill="#f2f2f4"/>
<rect x="43.4" y="478.5" width="80" height="10.5" fill="#e7e7ea"/>
<rect x="45" y="488.6" width="77" height="1.8" fill="#cfcfd3"/>
<rect x="50.2" y="394.2" width="61.5" height="84" rx="1.5" fill="#1c1c1e"/>
<rect x="53" y="397" width="47.5" height="36" fill="#121213"/>
<rect x="53" y="438" width="47.5" height="37" fill="#121213"/>
<rect x="50.2" y="433.5" width="61.5" height="3.8" fill="#2a2a2c"/>
<rect x="50.2" y="394.2" width="3" height="84" fill="#3a3a3d"/>
<rect x="61.5" y="403.7" width="36" height="27.5" rx="2" fill="#2c2c2f"/>
<rect x="62" y="405.2" width="6.5" height="23" fill="#a9aaad"/>
<rect x="63" y="426.2" width="30" height="4" fill="#85868a"/>
<rect x="92" y="407.2" width="5" height="17" fill="#5c5d61"/>
<circle cx="79.6" cy="416.2" r="12" fill="#1e1e21"/>
<circle cx="79.6" cy="416.2" r="10.8" fill="url(#gscrew)"/>
<path d="M71 418.2 L88 414.2 M78.6 407.7 L80.6 424.7" stroke="#2a2a2e" stroke-width="2.3" fill="none"/>
<circle cx="79.6" cy="416.2" r="2.6" fill="#18181b"/>
<path d="M71.3 411.7 Q79.6 404.7 88 411.7" stroke="#ffffff" stroke-width="2" fill="none"/>
<path d="M72.5 422.2 Q79.6 427.2 86.8 422.2" stroke="#e2e2e4" stroke-width="1.5" fill="none"/>
<path d="M70.5 414.2 Q69.5 418.2 72 422.2" stroke="#4a4a4e" stroke-width="1.6" fill="none"/>
<rect x="61.5" y="441.4" width="36" height="27.5" rx="2" fill="#2c2c2f"/>
<rect x="62" y="442.9" width="6.5" height="23" fill="#a9aaad"/>
<rect x="63" y="463.9" width="30" height="4" fill="#85868a"/>
<rect x="92" y="444.9" width="5" height="17" fill="#5c5d61"/>
<circle cx="79.6" cy="453.9" r="12" fill="#1e1e21"/>
<circle cx="79.6" cy="453.9" r="10.8" fill="url(#gscrew)"/>
<path d="M71 455.9 L88 451.9 M78.6 445.4 L80.6 462.4" stroke="#2a2a2e" stroke-width="2.3" fill="none"/>
<circle cx="79.6" cy="453.9" r="2.6" fill="#18181b"/>
<path d="M71.3 449.4 Q79.6 442.4 88 449.4" stroke="#ffffff" stroke-width="2" fill="none"/>
<path d="M72.5 459.9 Q79.6 464.9 86.8 459.9" stroke="#e2e2e4" stroke-width="1.5" fill="none"/>
<path d="M70.5 451.9 Q69.5 455.9 72 459.9" stroke="#4a4a4e" stroke-width="1.6" fill="none"/>
</g>
<g id="anno" fill="none" stroke="#c4181e" stroke-width="1.9">
<path d="M82.8 249 V384"/>
<rect x="36.3" y="384" width="88.4" height="108"/>
<path d="M448.3 226 V261.3 M327.7 280 V261.3 H573.3 V280"/>
<rect x="260.7" y="280.5" width="126.3" height="39"/>
<rect x="512.7" y="280.5" width="126.3" height="39"/>
<path d="M723.6 280.5 V370.5"/>
<rect x="693.3" y="370.5" width="48.4" height="135.5"/>
<rect x="135" y="479" width="131" height="39"/>
<path d="M135 512.5 H79.4 V630"/>
</g>
<g fill="none" stroke="#46d44b" stroke-width="1.9">
<rect x="134" y="551" width="127.5" height="40.2"/>
<rect x="383.3" y="551" width="127.3" height="40.2"/>
<path d="M197.5 591.2 V623.8 H448.3 V591.2 M352 623.8 V681"/>
</g>
<g filter="url(#soft)">
<rect x="394.7" y="536.2" width="110.7" height="17.6" fill="#e6e6e9"/>
<rect x="394.7" y="552.4" width="110.7" height="4.2" fill="#ececef"/>
<rect x="505" y="549.6" width="4.4" height="3" fill="#e0e0e4"/>
<path d="M396 547.4 V537.4 H504.5 V547.4" fill="none" stroke="#b3b4ba" stroke-width="1.6"/>
<text transform="translate(413.5 548.9)" font-size="7.4" fill="#45d445" text-anchor="middle">10</text>
<text transform="translate(427.7 548.9) scale(1.0726 1)" font-size="7.4" fill="#45d445" text-anchor="middle">11</text>
<text transform="translate(442.9 548.9)" font-size="7.4" fill="#45d445" text-anchor="middle">12</text>
<text transform="translate(458.1 548.9)" font-size="7.4" fill="#45d445" text-anchor="middle">13</text>
<text transform="translate(473.5 548.9)" font-size="7.4" fill="#45d445" text-anchor="middle">14</text>
<text transform="translate(488.9 548.9)" font-size="7.4" fill="#45d445" text-anchor="middle">15</text>
</g>
<text transform="translate(21.3 243) scale(1.0465 1)" font-size="17.2" fill="#2a2a2a">+/- entrada do fio do pólo</text>
<text transform="translate(290 219.7) scale(1.0747 1)" font-size="17.2" fill="#2a2a2a">Laranja é o pólo positivo da faixa de luz</text>
<text transform="translate(686.5 256.2) scale(1.0394 1)" font-size="15" fill="#2a2a2a">Sensor A/B</text>
<text transform="translate(703.3 279.8) scale(1.0794 1)" font-size="12.3" fill="#2a2a2a">Entrada</text>
<text transform="translate(10.3 654.2) scale(1.0155 1)" font-size="17.2" fill="#2a2a2a">Exibir o número de</text>
<text transform="translate(12.3 675) scale(1.0141 1)" font-size="17.2" fill="#2a2a2a">etapas iluminadas</text>
<text transform="translate(257.3 699) scale(1.0769 1)" font-size="17.2" fill="#2a2a2a">Verde é o pólo negativo da faixa de luz</text>
</svg>
</body></html>
